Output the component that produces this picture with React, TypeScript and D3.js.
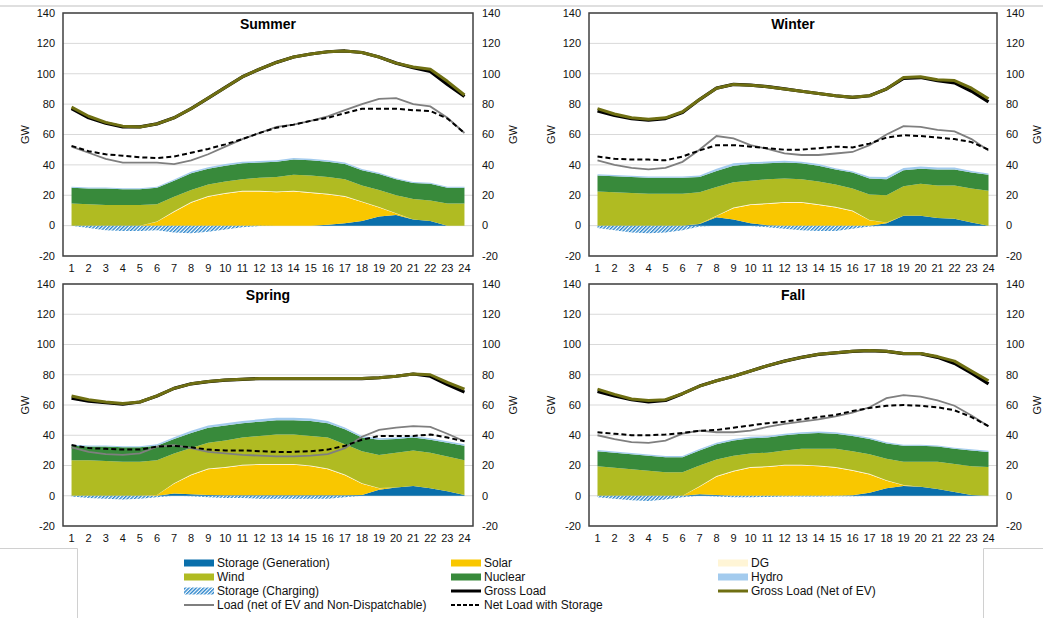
import React from 'react';
import * as d3 from 'd3';

const hours = [1, 2, 3, 4, 5, 6, 7, 8, 9, 10, 11, 12, 13, 14, 15, 16, 17, 18, 19, 20, 21, 22, 23, 24];
const yTicks = [-20, 0, 20, 40, 60, 80, 100, 120, 140];

// ---------- Summer ----------
const summerStorageGen = [0, 0, 0, 0, 0, 0, 0, 0, 0, 0, 0, 0, 0, 0, 0, 0.5, 1.5, 3, 6, 7, 4, 3, 0, 0];
const summerSolar = [0, 0, 0, 0, 0, 2.5, 9, 15, 19, 21, 22.5, 22.5, 22, 22.5, 21.5, 20, 17.5, 12.5, 6, 1, 0, 0, 0, 0];
const summerDG = [0, 0, 0, 0, 0, 0.2, 0.4, 0.5, 0.5, 0.5, 0.5, 0.5, 0.5, 0.5, 0.5, 0.5, 0.5, 0.4, 0.3, 0.1, 0, 0, 0, 0];
const summerWind = [14.5, 14, 13.5, 13.5, 13.5, 11.3, 9.6, 8, 7.5, 7.5, 7.5, 8.5, 9.5, 10.5, 11, 11, 11.1, 10.6, 11.2, 11.9, 13.5, 13.5, 14.5, 14.5];
const summerNuclear = [10.5, 10.5, 11, 10.5, 10.5, 11, 10.5, 11, 10.5, 10.5, 10.5, 10, 10, 10, 10, 10, 10, 10, 10.5, 10.5, 10.5, 11, 10.5, 10.5];
const summerHydro = [0.6, 0.6, 0.6, 0.6, 0.6, 0.6, 0.8, 0.9, 1, 1, 1, 1, 1, 1, 1, 1, 0.9, 0.8, 0.8, 0.7, 0.7, 0.7, 0.6, 0.6];
const summerCharging = [0, -1.5, -3, -3.5, -3.5, -3, -4.5, -5, -4, -2.5, -1, -0.3, 0, 0, 0, 0, 0, 0, 0, 0, 0, 0, 0, 0];
const summerGross = [77, 71, 67.5, 65, 65, 67, 71, 77, 84, 91, 98, 103, 107.5, 111, 113, 114.5, 115, 114, 111, 107, 104, 101.5, 93, 85];
const summerGrossNetEV = [78, 72, 68, 65.5, 65, 67, 71, 77, 84, 91, 98, 103, 107.5, 111, 113, 114.5, 115, 114, 111, 107, 104.5, 103, 95, 86];
const summerLoadNet = [52, 48, 44, 41.5, 41.5, 41.5, 40.5, 43, 47, 52, 57, 61, 65, 66.5, 69, 72, 76, 80, 83.5, 84, 80, 78.5, 71, 61];
const summerNetLoadStorage = [52.5, 49, 47, 46, 45, 44.5, 45.5, 48, 50.5, 53.5, 57, 61, 64.5, 66.5, 69, 71, 74, 77, 77, 77, 76, 75.5, 70.5, 61];

// ---------- Winter ----------
const winterStorageGen = [0, 0, 0, 0, 0, 0, 1, 5.5, 4, 1.5, 0.3, 0, 0, 0, 0, 0, 0, 1.5, 6.5, 6.5, 5, 4.5, 2, 0];
const winterSolar = [0, 0, 0, 0, 0, 0, 0.3, 0.8, 7.5, 12, 14, 15, 15, 13.5, 12, 9.5, 3.5, 0.5, 0, 0, 0, 0, 0, 0];
const winterDG = [0, 0, 0, 0, 0, 0, 0, 0.2, 0.4, 0.5, 0.5, 0.5, 0.5, 0.5, 0.5, 0.4, 0.2, 0, 0, 0, 0, 0, 0, 0];
const winterWind = [22.5, 22, 21.5, 21, 21, 21, 20.7, 19, 16.6, 15.5, 15.7, 15.5, 15, 15, 14.5, 14.6, 16.8, 18, 19.5, 21, 21.5, 22, 22.5, 23];
const winterNuclear = [10.5, 10.5, 10.5, 10.5, 10.5, 10.5, 10, 10.5, 11, 11, 10.5, 10.5, 10.5, 10.5, 10, 10.5, 10.5, 10.5, 10.5, 10, 10.5, 10.5, 10.5, 10.5];
const winterHydro = [0.8, 0.8, 0.8, 0.8, 0.8, 0.8, 1, 1.5, 1.5, 1.3, 1.2, 1.2, 1, 1, 0.8, 0.8, 1.2, 1.5, 1.5, 1.5, 1.2, 1.2, 1, 0.8];
const winterCharging = [-1.5, -3, -4.5, -5, -4.5, -3, -0.5, 0, 0, -0.3, -1, -2, -3, -3.5, -3.5, -2, -0.5, 0, 0, 0, 0, 0, 0, 0];
const winterGross = [75.5, 72.5, 70.5, 69.5, 70.5, 74.5, 83, 90.5, 93, 92.5, 91.5, 90, 88.5, 87, 85.5, 84.5, 85.5, 90, 97, 97.5, 95.5, 94, 88.5, 81.5];
const winterGrossNetEV = [77, 73.5, 71, 70, 71, 75, 83, 90.5, 93, 92.5, 91.5, 90, 88.5, 87, 85.5, 84.5, 85.5, 90, 97.5, 98, 96, 95.5, 90.5, 83.5];
const winterLoadNet = [43, 40, 38, 37, 38, 42, 50, 59, 57.5, 53, 50.5, 47.5, 46.5, 46.5, 47.5, 48.5, 53, 60, 65.5, 65, 63, 62, 57, 49.5];
const winterNetLoadStorage = [45.5, 44, 43.5, 43.5, 43, 45.5, 49.5, 53, 53, 52, 51, 50, 50, 51, 52, 51.5, 54, 58, 59.5, 59, 58, 57, 55, 50];

// ---------- Spring ----------
const springStorageGen = [0, 0, 0, 0, 0, 0, 1.5, 1, 0.5, 0.3, 0.3, 0.3, 0.3, 0.3, 0.3, 0.3, 0.3, 0.5, 4, 5.5, 6.5, 5, 3, 0.5];
const springSolar = [0, 0, 0, 0, 0, 0.5, 6.5, 12.5, 17, 18.2, 19.7, 20.2, 20.2, 20.2, 19.2, 17.2, 13.2, 7.5, 1, 0, 0, 0, 0, 0];
const springDG = [0, 0, 0, 0, 0, 0, 0.3, 0.5, 0.5, 0.5, 0.5, 0.5, 0.5, 0.5, 0.5, 0.5, 0.5, 0.3, 0.1, 0, 0, 0, 0, 0];
const springWind = [23.5, 23.5, 23, 22.5, 22.5, 23, 19.7, 17.5, 17, 17.5, 18, 18.5, 19.5, 19.5, 19.5, 20.5, 20, 21.2, 21.9, 23, 23.5, 23.5, 23, 23];
const springNuclear = [9.5, 9, 9.5, 9.5, 9.5, 9.5, 9.5, 10, 10, 10, 9.5, 9.5, 9.5, 9.5, 10, 9.5, 10, 9, 10, 9, 8.5, 8.5, 9, 9.5];
const springHydro = [0.8, 0.8, 0.8, 0.8, 0.8, 1, 1.2, 1.5, 1.5, 1.5, 1.5, 1.5, 1.5, 1.5, 1.5, 1.5, 1.2, 1, 1, 1, 1, 1, 1, 1];
const springCharging = [-0.5, -1.5, -2, -2.5, -2, -1, 0, -0.3, -1, -1.5, -1.5, -2, -2, -2, -2, -2, -1, 0, 0, 0, 0, 0, 0, 0];
const springGross = [64.5, 62.5, 61.5, 60.5, 62, 66, 71, 74, 75.5, 76.5, 77, 77.5, 77.5, 77.5, 77.5, 77.5, 77.5, 77.5, 78, 79, 80.5, 79, 73.5, 68.5];
const springGrossNetEV = [66, 63.5, 62, 61, 62, 66, 71, 74, 75.5, 76.5, 77, 77.5, 77.5, 77.5, 77.5, 77.5, 77.5, 77.5, 78, 79, 80.5, 80, 75, 70.5];
const springLoadNet = [32, 29, 27.5, 27, 28, 32.5, 33.5, 31.5, 29, 28, 27, 26.5, 26, 26, 26.5, 27.5, 31.5, 39, 43.5, 45, 46, 45.5, 41, 36];
const springNetLoadStorage = [33.5, 31.5, 31, 30.5, 30.5, 32.5, 33, 32, 30.5, 30, 30, 29.5, 29, 29, 29.5, 30.5, 33, 37, 39.5, 39.5, 39.5, 40.5, 38.5, 36];

// ---------- Fall ----------
const fallStorageGen = [0, 0, 0, 0, 0, 0, 1, 0.5, 0, 0, 0, 0, 0, 0, 0, 0.3, 2, 5, 6.5, 6, 4.5, 2.5, 0.5, 0];
const fallSolar = [0, 0, 0, 0, 0, 0, 5, 12, 16, 18.5, 19, 20, 20, 19.5, 18.5, 16.2, 12, 5, 0.5, 0, 0, 0, 0, 0];
const fallDG = [0, 0, 0, 0, 0, 0, 0.3, 0.5, 0.5, 0.5, 0.5, 0.5, 0.5, 0.5, 0.5, 0.5, 0.5, 0.3, 0.1, 0, 0, 0, 0, 0];
const fallWind = [19.5, 18.5, 17.5, 16.5, 15.5, 15.5, 13.7, 11, 10, 9, 9, 9.5, 10.5, 11, 12, 12.5, 13, 14.2, 15.4, 16.5, 18, 18.5, 19, 19];
const fallNuclear = [10, 10, 10, 10, 10, 10, 10, 10, 10, 10, 10, 10, 10, 10.5, 10, 10, 10, 10, 10.5, 10.5, 10, 10, 10.5, 10];
const fallHydro = [0.8, 0.8, 0.8, 0.8, 0.8, 0.8, 0.9, 1, 1, 1, 1, 1, 1, 1, 1, 1, 0.9, 0.8, 0.8, 0.8, 0.8, 0.8, 0.8, 0.8];
const fallCharging = [-1, -2, -3, -3.5, -2.5, -1, 0, -0.5, -1, -1, -0.8, -0.5, -0.5, -0.5, -0.3, -0.3, -0.2, 0, 0, 0, 0, 0, 0, 0];
const fallGross = [69, 66, 63.5, 62, 63, 67.5, 72.5, 76, 79, 82.5, 86, 89, 91.5, 93.5, 94.5, 95.5, 96, 95.5, 94, 94, 91.5, 87.5, 81, 74];
const fallGrossNetEV = [70.5, 67, 64, 63, 63.5, 67.5, 72.5, 76, 79, 82.5, 86, 89, 91.5, 93.5, 94.5, 95.5, 96, 95.5, 94, 94, 92, 89, 82.5, 76];
const fallLoadNet = [40, 37.5, 35.5, 35, 36.5, 41, 43, 42, 42, 43, 45.5, 47.5, 49, 50.5, 52.5, 55, 58.5, 64.5, 66.5, 65.5, 63, 59.5, 53, 46];
const fallNetLoadStorage = [42, 41, 40, 40, 40.5, 41.5, 43, 43.5, 45, 46.5, 48, 49, 50.5, 52, 53.5, 56, 58, 59.5, 60, 59.5, 58.5, 56.5, 52, 46];

const C = {
  storageGen: '#0a6fab',
  solar: '#f9c700',
  dg: '#fff5d6',
  wind: '#b0bb22',
  nuclear: '#388a3b',
  hydro: '#a3cbee',
  charging: '#2c86cc',
  gross: '#000000',
  grossNetEV: '#6f6f12',
  loadNet: '#7f7f7f',
  netLoad: '#000000',
  grid: '#d9d9d9',
  frame: '#404040',
};

const FONT = '"Liberation Sans", Arial, sans-serif';

type Season = {
  name: string;
  storageGen: number[]; solar: number[]; dg: number[]; wind: number[]; nuclear: number[]; hydro: number[];
  charging: number[]; gross: number[]; grossNetEV: number[]; loadNet: number[]; netLoadStorage: number[];
};

const seasons: Season[] = [
  { name: 'Summer', storageGen: summerStorageGen, solar: summerSolar, dg: summerDG, wind: summerWind, nuclear: summerNuclear, hydro: summerHydro, charging: summerCharging, gross: summerGross, grossNetEV: summerGrossNetEV, loadNet: summerLoadNet, netLoadStorage: summerNetLoadStorage },
  { name: 'Winter', storageGen: winterStorageGen, solar: winterSolar, dg: winterDG, wind: winterWind, nuclear: winterNuclear, hydro: winterHydro, charging: winterCharging, gross: winterGross, grossNetEV: winterGrossNetEV, loadNet: winterLoadNet, netLoadStorage: winterNetLoadStorage },
  { name: 'Spring', storageGen: springStorageGen, solar: springSolar, dg: springDG, wind: springWind, nuclear: springNuclear, hydro: springHydro, charging: springCharging, gross: springGross, grossNetEV: springGrossNetEV, loadNet: springLoadNet, netLoadStorage: springNetLoadStorage },
  { name: 'Fall', storageGen: fallStorageGen, solar: fallSolar, dg: fallDG, wind: fallWind, nuclear: fallNuclear, hydro: fallHydro, charging: fallCharging, gross: fallGross, grossNetEV: fallGrossNetEV, loadNet: fallLoadNet, netLoadStorage: fallNetLoadStorage },
];

type Box = { left: number; right: number; top: number; bottom: number; gwL: number; gwR: number };
const boxes: Box[] = [
  { left: 63, right: 473, top: 13, bottom: 256, gwL: 25, gwR: 513 },
  { left: 589, right: 997, top: 13, bottom: 256, gwL: 551, gwR: 1037 },
  { left: 63, right: 473, top: 284, bottom: 526, gwL: 25, gwR: 513 },
  { left: 589, right: 997, top: 284, bottom: 526, gwL: 551, gwR: 1037 },
];

const stackKeys = ['storageGen', 'solar', 'dg', 'wind', 'nuclear', 'hydro'];
const stackColors: Record<string, string> = {
  storageGen: C.storageGen, solar: C.solar, dg: C.dg, wind: C.wind, nuclear: C.nuclear, hydro: C.hydro,
};

function Panel({ s, b }: { s: Season; b: Box }) {
  const x = d3.scaleBand<number>().domain(hours).range([b.left, b.right]);
  const cx = (h: number) => (x(h) as number) + x.bandwidth() / 2;
  const y = d3.scaleLinear().domain([-20, 140]).range([b.bottom, b.top]);

  const rows = hours.map((h, i) => ({
    h,
    storageGen: s.storageGen[i], solar: s.solar[i], dg: s.dg[i], wind: s.wind[i], nuclear: s.nuclear[i], hydro: s.hydro[i],
    charging: s.charging[i],
  }));
  const series = d3.stack<any>().keys(stackKeys)(rows);
  const area = d3.area<any>().x((d) => cx(d.data.h)).y0((d) => y(d[0])).y1((d) => y(d[1]));
  const chargeArea = d3.area<any>().x((d) => cx(d.h)).y0(() => y(0)).y1((d) => y(d.charging));
  const line = (vals: number[]) => d3.line<number>().x((_, i) => cx(hours[i])).y((v) => y(v))(vals) || '';

  const midY = (b.top + b.bottom) / 2;
  const midX = (b.left + b.right) / 2;

  return (
    <g>
      {yTicks.map((t) => (
        <line key={'g' + t} x1={b.left} x2={b.right} y1={y(t)} y2={y(t)} stroke={C.grid} strokeWidth={1} />
      ))}
      {series.map((ser) => (
        <path key={ser.key} d={area(ser as any) || ''} fill={stackColors[ser.key as string]} />
      ))}
      <path d={chargeArea(rows) || ''} fill="url(#hatch)" />
      <path d={line(s.loadNet)} fill="none" stroke={C.loadNet} strokeWidth={1.8} />
      <path d={line(s.netLoadStorage)} fill="none" stroke={C.netLoad} strokeWidth={2} strokeDasharray="5,3" />
      <path d={line(s.gross)} fill="none" stroke={C.gross} strokeWidth={3.2} strokeLinejoin="round" />
      <path d={line(s.grossNetEV)} fill="none" stroke={C.grossNetEV} strokeWidth={3} strokeLinejoin="round" />
      <rect x={b.left} y={b.top} width={b.right - b.left} height={b.bottom - b.top} fill="none" stroke={C.frame} strokeWidth={1.5} />
      <text x={midX} y={b.top + 16} textAnchor="middle" fontFamily={FONT} fontWeight="bold" fontSize={14} fill="#000">{s.name}</text>
      {yTicks.map((t) => (
        <g key={'t' + t}>
          <text x={b.left - 8} y={y(t)} dy="0.35em" textAnchor="end" fontFamily={FONT} fontSize={11} fill="#111">{t}</text>
          <text x={b.right + 9} y={y(t)} dy="0.35em" textAnchor="start" fontFamily={FONT} fontSize={11} fill="#111">{t}</text>
        </g>
      ))}
      {hours.map((h) => (
        <text key={'x' + h} x={cx(h)} y={b.bottom + 12} dy="0.35em" textAnchor="middle" fontFamily={FONT} fontSize={11} fill="#111">{h}</text>
      ))}
      <text transform={`translate(${b.gwL},${midY}) rotate(-90)`} textAnchor="middle" dy="0.35em" fontFamily={FONT} fontSize={11} fill="#111">GW</text>
      <text transform={`translate(${b.gwR},${midY}) rotate(-90)`} textAnchor="middle" dy="0.35em" fontFamily={FONT} fontSize={11} fill="#111">GW</text>
    </g>
  );
}

type LegendItem = { label: string; kind: 'rect' | 'hatch' | 'line' | 'dash'; color: string; width?: number; col: number; row: number };
const legendItems: LegendItem[] = [
  { label: 'Storage (Generation)', kind: 'rect', color: C.storageGen, col: 0, row: 0 },
  { label: 'Solar', kind: 'rect', color: C.solar, col: 1, row: 0 },
  { label: 'DG', kind: 'rect', color: C.dg, col: 2, row: 0 },
  { label: 'Wind', kind: 'rect', color: C.wind, col: 0, row: 1 },
  { label: 'Nuclear', kind: 'rect', color: C.nuclear, col: 1, row: 1 },
  { label: 'Hydro', kind: 'rect', color: C.hydro, col: 2, row: 1 },
  { label: 'Storage (Charging)', kind: 'hatch', color: C.charging, col: 0, row: 2 },
  { label: 'Gross Load', kind: 'line', color: C.gross, width: 3, col: 1, row: 2 },
  { label: 'Gross Load (Net of EV)', kind: 'line', color: C.grossNetEV, width: 3, col: 2, row: 2 },
  { label: 'Load (net of EV and Non-Dispatchable)', kind: 'line', color: C.loadNet, width: 2, col: 0, row: 3 },
  { label: 'Net Load with Storage', kind: 'dash', color: C.netLoad, width: 2, col: 1, row: 3 },
];
const legendColX = [184, 451, 718];
const legendRowY = [563, 577, 591, 605];

function Legend() {
  return (
    <g>
      {legendItems.map((it) => {
        const x0 = legendColX[it.col];
        const yc = legendRowY[it.row];
        let sw: React.ReactNode;
        if (it.kind === 'rect') sw = <rect x={x0} y={yc - 3.5} width={30} height={7} fill={it.color} />;
        else if (it.kind === 'hatch') sw = <rect x={x0} y={yc - 3.5} width={30} height={7} fill="url(#hatch)" />;
        else if (it.kind === 'line') sw = <line x1={x0} x2={x0 + 30} y1={yc} y2={yc} stroke={it.color} strokeWidth={it.width} />;
        else sw = <line x1={x0} x2={x0 + 30} y1={yc} y2={yc} stroke={it.color} strokeWidth={it.width} strokeDasharray="4,2" />;
        return (
          <g key={it.label}>
            {sw}
            <text x={x0 + 33} y={yc} dy="0.35em" fontFamily={FONT} fontSize={12} fill="#111">{it.label}</text>
          </g>
        );
      })}
    </g>
  );
}

export default function App() {
  return (
    <svg width={1043} height={618} style={{ position: 'absolute', left: 0, top: 0, background: '#fff' }}>
      <defs>
        <pattern id="hatch" patternUnits="userSpaceOnUse" width={2.6} height={2.6} patternTransform="rotate(45)">
          <rect x={0} y={0} width={1.4} height={2.6} fill={C.charging} />
        </pattern>
      </defs>
      <rect x={0} y={0} width={1043} height={618} fill="#fff" />
      <line x1={0} x2={1043} y1={6} y2={6} stroke="#bfbfbf" strokeWidth={1} />
      <path d="M0,548.5 H77.5 V618" fill="none" stroke="#d0d0d0" strokeWidth={1} />
      <path d="M1043,548.5 H983.5 V618" fill="none" stroke="#d0d0d0" strokeWidth={1} />
      {seasons.map((s, i) => (
        <Panel key={s.name} s={s} b={boxes[i]} />
      ))}
      <Legend />
    </svg>
  );
}
